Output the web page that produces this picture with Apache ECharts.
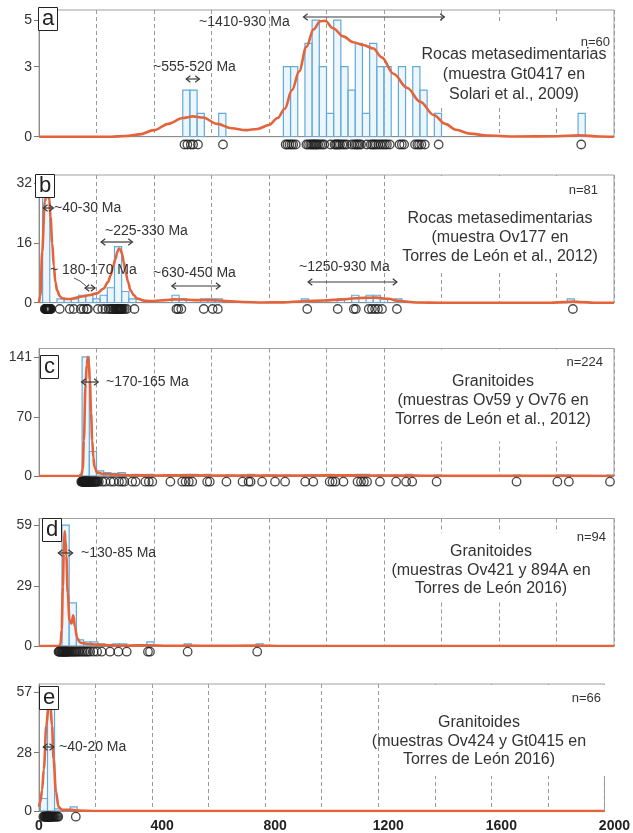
<!DOCTYPE html>
<html><head><meta charset="utf-8">
<script src="https://cdn.jsdelivr.net/npm/echarts@6.0.0/dist/echarts.min.js"></script>
<style>html,body{margin:0;padding:0;background:#fff}#c{width:633px;height:833px}</style>
</head><body><div id="c"></div>
<script>
// ---------------- DATA ----------------
const panelLetters = ['a','b','c','d','e'];
const nLabels = ['n=60','n=81','n=224','n=94','n=66'];
const descA = ['Rocas metasedimentarias','(muestra Gt0417 en','Solari et al., 2009)'];
const descB = ['Rocas metasedimentarias','(muestra Ov177 en','Torres de León et al., 2012)'];
const descC = ['Granitoides','(muestras Ov59 y Ov76 en','Torres de León et al., 2012)'];
const descD = ['Granitoides','(muestras Ov421 y 894A en','Torres de León 2016)'];
const descE = ['Granitoides','(muestras Ov424 y Gt0415 en','Torres de León 2016)'];
const yTicksA = [0,3,5], yTicksB = [0,16,32], yTicksC = [0,70,141], yTicksD = [0,29,59], yTicksE = [0,28,57];
const xTickLabels = [0,400,800,1200,1600,2000];
const binWidth = 25; // Ma

// Histogram bins: start age (Ma) and count
const aBinStart = [500,525,550,625,850,875,925,950,975,1000,1025,1050,1075,1100,1125,1150,1175,1200,1250,1300,1325,1375,1875];
const aBinCount = [2,2,1,1,3,3,4,5,3,1,5,3,2,4,1,4,3,3,3,3,2,1,1];
const bBinStart = [12.5,62.5,87.5,112.5,137.5,162.5,187.5,212.5,237.5,262.5,287.5,312.5,462.5,487.5,562.5,587.5,612.5,912.5,1037.5,1087.5,1137.5,1162.5,1187.5,1237.5,1837.5];
const bBinCount = [31,1,1,1,2,2,1,2,4,15,3,1,2,1,1,1,1,1,1,2,2,2,1,1,1];
const cBinStart = [150,175,200,225,250,275,325,375,450,500,525,575,650,700,725,775,800,850,925,950,1000,1025,1050,1100,1125,1175,1225,1275,1375,1650,1800,1825,1975];
const cBinCount = [141,29,6,4,3,4,2,2,1,2,2,2,1,1,2,1,1,1,1,1,2,1,1,2,2,1,1,2,1,1,1,1,1];
const dBinStart = [80,105,130,155,180,205,255,280,375,505,755];
const dBinCount = [59,21,3,2,2,1,1,1,2,1,1];
const eBinStart = [5,30,55,110];
const eBinCount = [6,57,1,2];

// Probability density curves: [age Ma, height in count units]
const aKde = [[0,0],[250,0],[300,0.03],[350,0.1],[400,0.28],[450,0.55],[500,0.8],[535,0.87],[570,0.82],[620,0.55],[670,0.36],[720,0.28],[760,0.33],[800,0.5],[830,0.8],[855,1.2],[880,2.0],[905,2.8],[930,3.85],[955,4.6],[978,4.95],[995,4.97],[1023,4.65],[1058,4.3],[1093,4.05],[1128,3.93],[1163,3.78],[1192,3.4],[1233,2.7],[1280,2.1],[1326,1.5],[1373,0.93],[1413,0.55],[1450,0.3],[1500,0.13],[1560,0.05],[1650,0.01],[1800,0.02],[1880,0.06],[1950,0.01],[2000,0]];
const bKde = [[0,0],[5,2],[11,13.6],[20,27],[28.5,30.3],[36,27.5],[40,23],[46,16],[51.5,9.9],[57,5.5],[63,3.3],[72,1.8],[80,1.2],[95,1.0],[110,1.0],[128,1.3],[144,1.6],[173,2.0],[202,2.5],[225,3.8],[240,5.5],[249,7.3],[258,9.8],[266,11.7],[272,13.5],[278,14.5],[284,14.2],[289,13],[295,10.8],[301,8.2],[310,5.5],[318,3.3],[330,2.0],[341,1.1],[370,0.5],[400,0.45],[440,0.7],[470,0.9],[500,0.85],[540,0.7],[596,0.7],[652,0.45],[709,0.2],[779,0.05],[849,0.1],[919,0.4],[989,0.6],[1060,0.9],[1100,1.2],[1130,1.3],[1172,1.35],[1214,1.05],[1256,0.45],[1312,0.05],[1400,0],[1780,0],[1830,0.15],[1857,0.3],[1885,0.15],[1930,0],[2000,0]];
const cKde = [[0,0],[140,0],[148,2],[152,8],[156,42],[162,109],[166,132],[170,141],[173,135],[177,113],[181,75],[185,42],[189,22],[193,11],[202,4],[224,2.4],[272,1.6],[330,0.8],[400,0.6],[500,0.8],[600,0.6],[800,0.5],[1000,0.7],[1100,0.8],[1200,0.5],[1300,0.4],[1400,0.2],[1600,0.1],[1800,0.2],[2000,0.05]];
const dKde = [[0,0],[70,0],[75,1],[79,8],[83,29],[86,45],[89,56],[92,52],[95,44],[100,25.7],[106,12.7],[113,11],[119,15],[125,9.4],[133,3.7],[144,1.6],[168,1.0],[202,0.65],[259,0.3],[300,0.2],[380,0.4],[450,0.1],[520,0.2],[600,0.05],[760,0.2],[850,0],[2000,0]];
const eKde = [[0,2],[5,4.5],[11,10],[17,20],[26,41],[34,51],[37,55],[40,51],[46,41],[51.5,25],[60,9.3],[69,2],[81,0.6],[115,0.6],[140,0.2],[200,0],[2000,0]];

// Individual grain ages (circles)
const aAges = [506,516,528,536,553,640,858,864,871,878,884,893,930,936,943,948,953,957,962,966,971,978,985,992,1014,1028,1033,1037,1042,1047,1055,1062,1070,1088,1097,1103,1108,1114,1120,1140,1154,1160,1166,1172,1180,1188,1196,1203,1210,1220,1254,1262,1270,1308,1316,1322,1330,1342,1390,1886];
const bAges = [20,22,24,25,26,27,27,28,28,29,29,30,30,30,31,31,31,32,32,33,33,34,34,35,35,36,36,37,38,40,42,72,107,121,145,155,166,170,205,220,231,242,248,253,258,263,266,268,270,272,274,276,278,279,281,283,284,286,287,288,292,298,305,332,478,484,495,573,604,622,933,1039,1095,1102,1147,1158,1169,1179,1193,1245,1857];
const cAges = [147,149,151,153,154,155,156,157,158,159,160,161,162,163,164,165,166,167,168,169,170,171,172,173,174,175,176,178,180,182,184,186,188,190,192,194,196,198,200,203,208,220,231,249,260,278,289,297,324,336,370,382,394,457,498,510,521,533,585,594,652,708,729,736,776,821,856,926,954,1011,1021,1031,1059,1108,1120,1130,1141,1186,1242,1277,1298,1383,1661,1803,1843,1986];
const dAges = [68,70,72,75,78,80,82,84,86,88,90,92,94,96,98,100,103,106,110,114,118,122,126,130,135,140,146,152,158,165,170,178,190,202,218,247,276,305,379,386,517,759];
const eAges = [15,18,20,22,24,26,27,28,29,30,31,32,33,34,35,36,37,38,39,40,42,44,46,48,50,53,56,60,64,67,128];

// Annotations: [panel, label, arrow start Ma, arrow end Ma]
const annotations = [
  [0,'~1410-930 Ma',920,1410],
  [0,'~555-520 Ma',512,558],
  [1,'~40-30 Ma',15,50],
  [1,'~225-330 Ma',216,325],
  [1,'~ 180-170 Ma',160,195],
  [1,'~630-450 Ma',462,630],
  [1,'~1250-930 Ma',936,1245],
  [2,'~170-165 Ma',148,206],
  [3,'~130-85 Ma',67,117],
  [4,'~40-20 Ma',15,52]
];

// ---------------- LAYOUT / STYLE ----------------
const FONT = '"Liberation Sans", Arial, sans-serif';
const GL = 39, GR = 19;
const panels = [
  {top:10,    height:126.7, ymax:5.43,  strip:[137,15],   bins:[aBinStart,aBinCount], kde:aKde, ages:aAges, ticks:yTicksA, desc:descA},
  {top:175,   height:127.7, ymax:34.2,  strip:[303,12],   bins:[bBinStart,bBinCount], kde:bKde, ages:bAges, ticks:yTicksB, desc:descB},
  {top:348.5, height:127.5, ymax:151,   strip:[476,11.4], bins:[cBinStart,cBinCount], kde:cKde, ages:cAges, ticks:yTicksC, desc:descC},
  {top:518.5, height:127.5, ymax:62.2,  strip:[646,11.4], bins:[dBinStart,dBinCount], kde:dKde, ages:dAges, ticks:yTicksD, desc:descD},
  {top:684,   height:127,   ymax:61,    strip:[811,11.4], bins:[eBinStart,eBinCount], kde:eKde, ages:eAges, ticks:yTicksE, desc:descE}
];
// text placement (pixels)
const letterPos = [[38,7],[35,174],[40,355],[42,518],[39,686]];
const nPos = [[610,42],[598,190],[603,362],[606,537],[601,698]];
const descPos = [[514,55,20],[500,219,19],[493,382,19],[491,552,18.5],[479,723,18.5]]; // center x, first line y, line step
const coverRects = [[412,22,199,86],[392,176,219,94],[392,349.5,219,92],[392,533,219,69],[392,685,219,91]];
const annPos = [ // text left x, text y, arrow y
  [199,22,17],[153,67,79],[54,208,208],[105,231,242],[50,270,288],[153,273,286],[299,267,282],[106,382,382],[81,553,553],[59,747,747]
];

const chart = echarts.init(document.getElementById('c'), null, {width:633, height:833});
const grid=[], xAxis=[], yAxis=[], series=[], title=[];
panels.forEach((P,i)=>{
  grid.push({left:GL, right:GR, top:P.top, height:P.height, show:true, borderColor:'#a0a0a0', borderWidth:1});
  xAxis.push({type:'value', gridIndex:i, min:0, max:2000, interval:200,
    axisLine:{show:true, onZero:false, lineStyle:{color:'#8c8c8c', width:1}},
    axisTick:{show:false},
    axisLabel: i===4 ? {show:true, interval:1, margin:8,
      formatter:v=> xTickLabels.indexOf(v)<0 ? '' : (v===0 ? '{z|0}' : '{n|'+v+'}'),
      rich:{z:{fontSize:14, fontWeight:'bold', color:'#222', fontFamily:FONT},
            n:{fontSize:14, fontWeight:'bold', color:'#222', fontFamily:FONT, padding:[0,0,0,20]}}} : {show:false},
    splitLine:{show:true, lineStyle:{color:'#9a9a9a', type:[4,3], width:1}}});
  yAxis.push({type:'value', gridIndex:i, min:0, max:P.ymax,
    axisLine:{show:true, lineStyle:{color:'#8c8c8c'}},
    axisTick:{show:true, length:5, customValues:P.ticks, lineStyle:{color:'#777'}},
    axisLabel:{customValues:P.ticks, fontSize:14, color:'#333', margin:7, fontFamily:FONT},
    splitLine:{show:false}});
  // histogram
  series.push({type:'custom', xAxisIndex:i, yAxisIndex:i, z:2, clip:true,
    encode:{x:[0,1], y:2},
    data:P.bins[0].map((s,k)=>[s, s+binWidth, P.bins[1][k]]),
    renderItem:(params, api)=>{
      const p0 = api.coord([api.value(0), api.value(2)]);
      const p1 = api.coord([api.value(1), 0]);
      return {type:'rect', shape:{x:p0[0], y:p0[1], width:p1[0]-p0[0], height:p1[1]-p0[1]},
        style:{fill:'rgba(214,234,248,0.45)', stroke:'#62aad9', lineWidth:1.2}};
    }});
  // density curve
  series.push({type:'line', xAxisIndex:i, yAxisIndex:i, z:3, data:P.kde, showSymbol:false,
    smooth:0.35, smoothMonotone:'x', lineStyle:{color:'#e5633a', width:2.6}});
  // title letter box
  title.push({text:panelLetters[i], left:letterPos[i][0], top:letterPos[i][1], padding:[0,4,1,4],
    borderColor:'#222', borderWidth:1, backgroundColor:'#fff', z:10,
    textStyle:{fontSize:22, fontWeight:'normal', color:'#222', fontFamily:FONT, lineHeight:23}});
});
// circle strips
panels.forEach((P,i)=>{
  const gi = 5+i;
  grid.push({left:GL, right:GR, top:P.strip[0], height:P.strip[1], show:false});
  xAxis.push({type:'value', gridIndex:gi, min:0, max:2000, show:false});
  yAxis.push({type:'value', gridIndex:gi, min:-1, max:1, show:false});
  series.push({type:'scatter', xAxisIndex:gi, yAxisIndex:gi, z:4, symbol:'circle', symbolSize:8.5,
    data:P.ages.map(a=>[a,0]),
    itemStyle:{color:'rgba(255,255,255,0)', borderColor:'#1c1c1c', borderWidth:1.3}});
});

chart.setOption({animation:false, backgroundColor:'#fff', grid, xAxis, yAxis, series, title});

// annotations & texts
const g = [];
const ink = '#333';
panels.forEach((P,i)=>{
  const r = coverRects[i];
  g.push({type:'rect', shape:{x:r[0], y:r[1], width:r[2], height:r[3]}, style:{fill:'#fff'}, z:1, silent:true});
  g.push({type:'text', x:nPos[i][0], y:nPos[i][1], z:12, style:{text:nLabels[i], fill:ink, font:'13px '+FONT, textAlign:'right', textVerticalAlign:'middle'}});
  P.desc.forEach((line,k)=>{
    g.push({type:'text', x:descPos[i][0], y:descPos[i][1]+k*descPos[i][2], z:12,
      style:{text:line, fill:ink, font:'16px '+FONT, textAlign:'center', textVerticalAlign:'middle'}});
  });
});
function arrow(x1,x2,y){
  const h=3.2, s={stroke:'#3a3a3a', lineWidth:1.2, fill:null};
  return [
    {type:'line', shape:{x1:x1,y1:y,x2:x2,y2:y}, style:{stroke:'#3a3a3a', lineWidth:1.2}, z:13},
    {type:'polyline', shape:{points:[[x1+h+1,y-h],[x1,y],[x1+h+1,y+h]]}, style:s, z:13},
    {type:'polyline', shape:{points:[[x2-h-1,y-h],[x2,y],[x2-h-1,y+h]]}, style:s, z:13}
  ];
}
annotations.forEach((A,k)=>{
  const [pi,label,a1,a2] = A;
  const pos = annPos[k];
  const x1 = chart.convertToPixel({xAxisIndex:pi}, a1);
  const x2 = chart.convertToPixel({xAxisIndex:pi}, a2);
  g.push({type:'text', x:pos[0], y:pos[1], z:12, style:{text:label, fill:ink, font:'14px '+FONT, textAlign:'left', textVerticalAlign:'middle'}});
  arrow(x1,x2,pos[2]).forEach(e=>g.push(e));
});
// leader line for "~ 180-170 Ma"
g.push({type:'polyline', shape:{points:[[74,278],[80,281],[86,286]]}, style:{stroke:'#555', lineWidth:1, fill:null}, z:13});
chart.setOption({graphic:{elements:g}});
</script></body></html>
